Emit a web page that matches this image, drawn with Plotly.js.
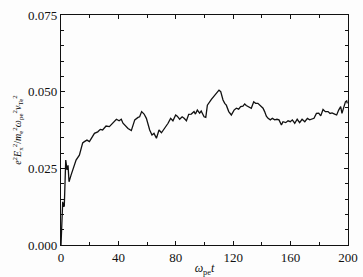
<!DOCTYPE html>
<html><head><meta charset="utf-8">
<script src="https://cdn.plot.ly/plotly-3.0.1.min.js"></script>
<style>html,body{margin:0;padding:0;background:#fdfdfd;}#c{width:363px;height:277px;}</style>
</head><body><div id="c"></div>
<script>
const timeValues = [0,0.5,1.2,1.9,2.3,3.3,4.2,4.9,5.6,7.0,8.8,10.5,12.8,15.1,16.3,18.1,19.8,21,23.3,25.6,27.4,29,31.4,33.7,36,38.6,40.5,42,43.2,44.4,46.7,49,51.4,53.7,54.8,56.2,57.9,59.5,61.8,63.4,64.8,66.5,68.3,70,72.3,74.6,76.4,78,79.9,81,82.7,84.4,85.8,87.4,89,90.8,92.7,93.7,95,96.6,97.7,99.7,100.9,102,104.8,107.1,109,110.1,111.3,112.9,114.1,115.2,116.9,118.7,120.6,122.2,123.8,125.2,126.8,128,129.1,131,132.6,134.3,135.6,137.2,138.9,140.8,141.9,143.1,144.3,145.9,147.3,148.9,150.5,151.9,153.6,154.7,156.6,158.2,159.8,161.2,162.9,164.6,166.3,168,169.9,171.7,173.3,174.9,176.3,178,179.6,181,182.6,184.2,186.1,187.5,188.9,190.7,192.1,193.5,194.9,195.8,197.2,198.2,199.1,199.5];
const energyValues = [0,0.0104,0.0141,0.0125,0.0127,0.0277,0.0245,0.026,0.0206,0.0228,0.025,0.0277,0.0293,0.0333,0.0337,0.0342,0.0337,0.0345,0.0364,0.0369,0.0377,0.0375,0.0388,0.0386,0.0399,0.041,0.0405,0.041,0.0397,0.0391,0.038,0.0373,0.0408,0.0416,0.0418,0.0435,0.0427,0.0413,0.0375,0.0359,0.0364,0.0348,0.0375,0.0366,0.038,0.0397,0.0413,0.0405,0.0424,0.042,0.041,0.0418,0.0413,0.0405,0.0426,0.0427,0.0435,0.0427,0.044,0.043,0.0437,0.0418,0.0416,0.0456,0.0475,0.0489,0.05,0.0505,0.05,0.0473,0.0462,0.0456,0.0435,0.0424,0.044,0.0446,0.0443,0.0451,0.0453,0.046,0.0455,0.0449,0.0446,0.0467,0.0462,0.0462,0.0453,0.0446,0.0435,0.042,0.0413,0.0408,0.0413,0.0408,0.041,0.0408,0.0391,0.0402,0.0399,0.0405,0.0402,0.0408,0.0397,0.041,0.0399,0.041,0.0402,0.0413,0.0408,0.041,0.0413,0.0429,0.043,0.0421,0.0442,0.0435,0.0435,0.0429,0.0431,0.0427,0.0424,0.044,0.0451,0.0429,0.0453,0.0467,0.047,0.0462];
const xTickVals = [0,40,80,120,160,200];
const xTickText = ['0','40','80','120','160','200'];
const yTickVals = [0,0.025,0.05,0.075];
const yTickText = ['0.000','0.025','0.050','0.075'];

const font = {family:'Liberation Serif', size:13, color:'#111'};
const axisCommon = {
  showline:true, linecolor:'#111', linewidth:1.2, mirror:'allticks',
  ticks:'inside', ticklen:4, tickwidth:1, tickcolor:'#111',
  showgrid:false, zeroline:false, tickfont:font
};
Plotly.newPlot('c', [{
  x: timeValues, y: energyValues, type:'scatter', mode:'lines',
  line:{color:'#111', width:1.3}, hoverinfo:'skip'
}], {
  width:363, height:277,
  margin:{l:61, r:15, t:15, b:32},
  paper_bgcolor:'#fdfdfd', plot_bgcolor:'#fdfdfd',
  font:font,
  showlegend:false,
  xaxis: Object.assign({}, axisCommon, {
    range:[0,200], tickvals:xTickVals, ticktext:xTickText,
    minor:{tickvals:[20,60,100,140,180], ticks:'inside', ticklen:3, tickcolor:'#111'},
    title:{text:'<i>ω</i><sub>pe</sub><i>t</i>', font:Object.assign({}, font, {size:12}), standoff:2}
  }),
  yaxis: Object.assign({}, axisCommon, {
    range:[0,0.075], tickvals:yTickVals, ticktext:yTickText,
    minor:{dtick:0.005, ticks:'inside', ticklen:3, tickcolor:'#111'},
    title:{text:'<i>e</i><sup>2</sup><i>E</i><sub>x</sub><sup>2</sup>/<i>m</i><sub>e</sub><sup>2</sup><i>ω</i><sub>pe</sub><sup>2</sup><i>v</i><sub>Te</sub><sup>2</sup>', font:Object.assign({}, font, {size:10}), standoff:4}
  })
}, {staticPlot:true, displayModeBar:false});
</script></body></html>
